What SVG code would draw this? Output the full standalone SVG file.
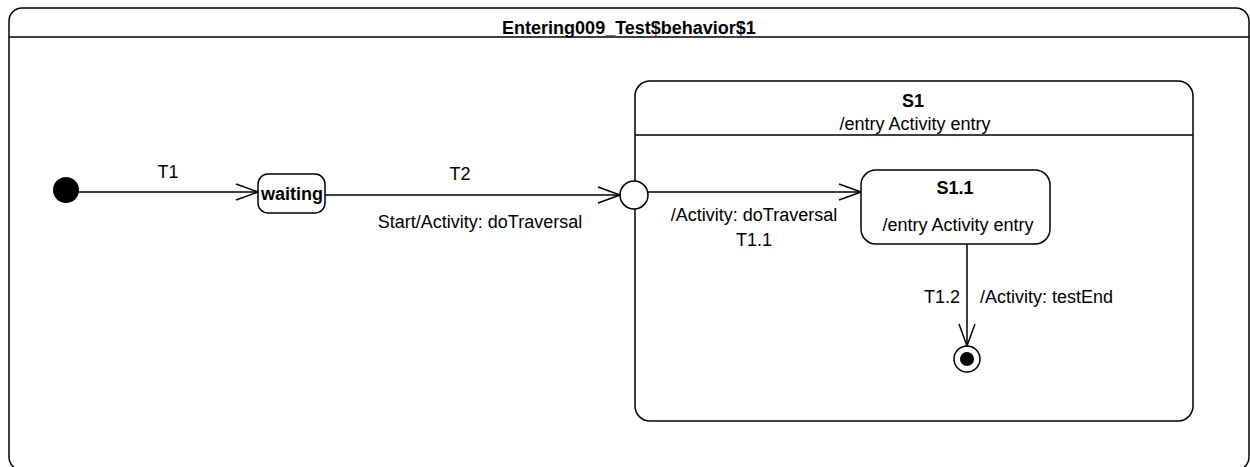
<svg xmlns="http://www.w3.org/2000/svg" width="1250" height="467" viewBox="0 0 1250 467">
<style>
text{font-family:"Liberation Sans",Arial,sans-serif;font-size:18px;fill:#000}
.b{font-weight:bold}
.s{fill:#fff;stroke:#000;stroke-width:1.5}
.c{fill:none;stroke:#000;stroke-width:1.5}
</style>
<defs>
<marker id="a" viewBox="0 0 24 18" refX="23" refY="9" markerWidth="24" markerHeight="18" markerUnits="userSpaceOnUse" orient="auto">
<path d="M1,1 L23,9 L1,17" fill="none" stroke="#000" stroke-width="1.5"/>
</marker>
</defs>
<g id="frame">
<rect x="9" y="8" width="1240" height="462" rx="13" class="s"/>
<line x1="9" y1="37" x2="1249" y2="37" class="c"/>
<text x="629" y="34" text-anchor="middle" class="b">Entering009_Test$behavior$1</text>
</g>
<g id="S1">
<rect x="635" y="81" width="558" height="340" rx="15" class="s"/>
<line x1="635" y1="135" x2="1193" y2="135" class="c"/>
<text x="913" y="107" text-anchor="middle" class="b">S1</text>
<text x="915" y="130" text-anchor="middle">/entry Activity entry</text>
</g>
<g id="initial"><circle cx="66" cy="190" r="13" fill="#000"/></g>
<g id="waiting">
<rect x="258" y="174" width="67" height="39" rx="10" class="s"/>
<text x="292" y="200" text-anchor="middle" class="b">waiting</text>
</g>
<g id="entry"><circle cx="634" cy="195" r="14" class="s"/></g>
<g id="S1_1">
<rect x="861" y="170" width="189" height="74" rx="15" class="s"/>
<text x="955" y="194" text-anchor="middle" class="b">S1.1</text>
<text x="958" y="231" text-anchor="middle">/entry Activity entry</text>
</g>
<g id="final">
<circle cx="967" cy="359" r="13" class="s"/>
<circle cx="967" cy="359" r="7" fill="#000"/>
</g>
<g id="connectors">
<line x1="79" y1="192" x2="258" y2="192" class="c" marker-end="url(#a)"/>
<text x="168" y="178" text-anchor="middle">T1</text>
<line x1="325" y1="195" x2="620" y2="195" class="c" marker-end="url(#a)"/>
<text x="460" y="180" text-anchor="middle">T2</text>
<text x="480" y="228" text-anchor="middle">Start/Activity: doTraversal</text>
<line x1="648" y1="192" x2="861" y2="192" class="c" marker-end="url(#a)"/>
<text x="754" y="221" text-anchor="middle">/Activity: doTraversal</text>
<text x="754" y="246" text-anchor="middle">T1.1</text>
<line x1="967" y1="244" x2="967" y2="346" class="c" marker-end="url(#a)"/>
<text x="960" y="303" text-anchor="end">T1.2</text>
<text x="980" y="303">/Activity: testEnd</text>
</g>
</svg>
